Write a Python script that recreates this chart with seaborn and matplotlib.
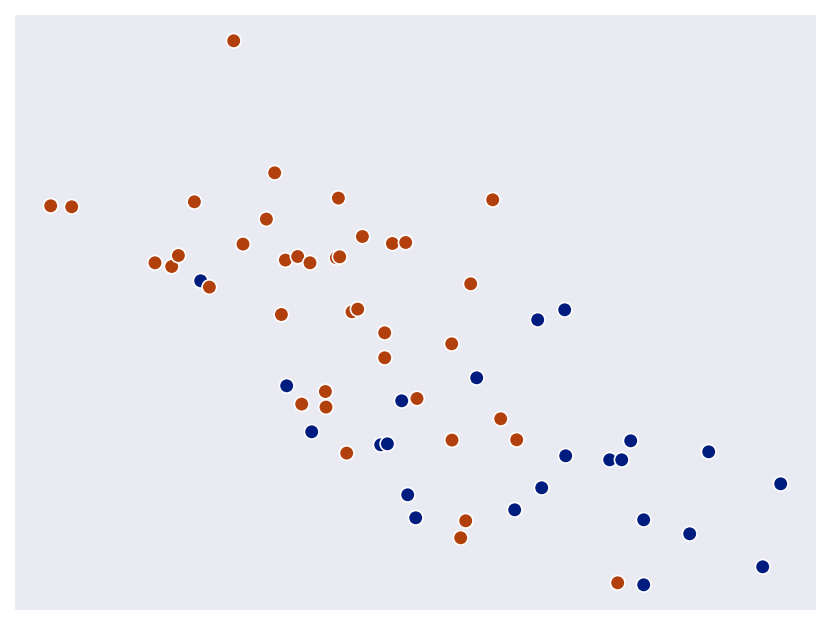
import matplotlib
matplotlib.use("Agg")
import matplotlib.pyplot as plt
import seaborn as sns
import pandas as pd

# Group A (dark blue)
a_x = [200, 537, 564, 476, 286, 401, 311, 380, 386.7, 630, 565, 609, 621, 708, 780, 541, 407, 514, 415, 643, 689, 762, 643]
a_y = [280, 319, 309, 377, 385, 400, 431, 444, 443, 440, 455, 459, 459, 451, 483, 487, 494, 509, 517, 519, 533, 566, 584]

# Group B (dark orange)
b_x = [233, 50, 71, 193.7, 274, 265.7, 337.7, 492, 242.3, 154.3, 171, 177.7, 208.7, 284.7, 297, 309.3, 335.7, 339,
       361.7, 391.7, 405, 470, 280.7, 351.3, 357, 384, 384, 451, 324.7, 301, 325.3, 416.3, 500, 451.3, 516, 346,
       465, 460, 617]
b_y = [40, 205, 206, 201, 172, 218.3, 197.3, 199, 243.3, 262, 265.7, 254.7, 286.3, 259.3, 255.7, 262, 257, 256,
       235.7, 242.7, 241.7, 283, 313.7, 311, 308.3, 332, 357, 343, 390.7, 403.3, 406.3, 397.7, 418, 439.3, 439, 452.3,
       520, 537, 582]

H = 626
df = pd.DataFrame({
    "x": a_x + b_x,
    "y": [H - v for v in a_y] + [H - v for v in b_y],
    "group": ["A"] * len(a_x) + ["B"] * len(b_x),
})

sns.set_theme(style="darkgrid")
fig = plt.figure(figsize=(8.31, 6.26), dpi=100)
ax = fig.add_axes([15 / 831, 16 / 626, 801 / 831, 595 / 626])
sns.scatterplot(data=df, x="x", y="y", hue="group", palette="dark", s=110,
                edgecolor="white", linewidth=1.2, legend=False, ax=ax)
ax.set_xlim(14.3, 815.3)
ax.set_ylim(16.8, 611.8)
ax.set_xticks([])
ax.set_yticks([])
ax.set_xlabel("")
ax.set_ylabel("")
for s in ax.spines.values():
    s.set_visible(False)
fig.savefig("out.png", dpi=100)
